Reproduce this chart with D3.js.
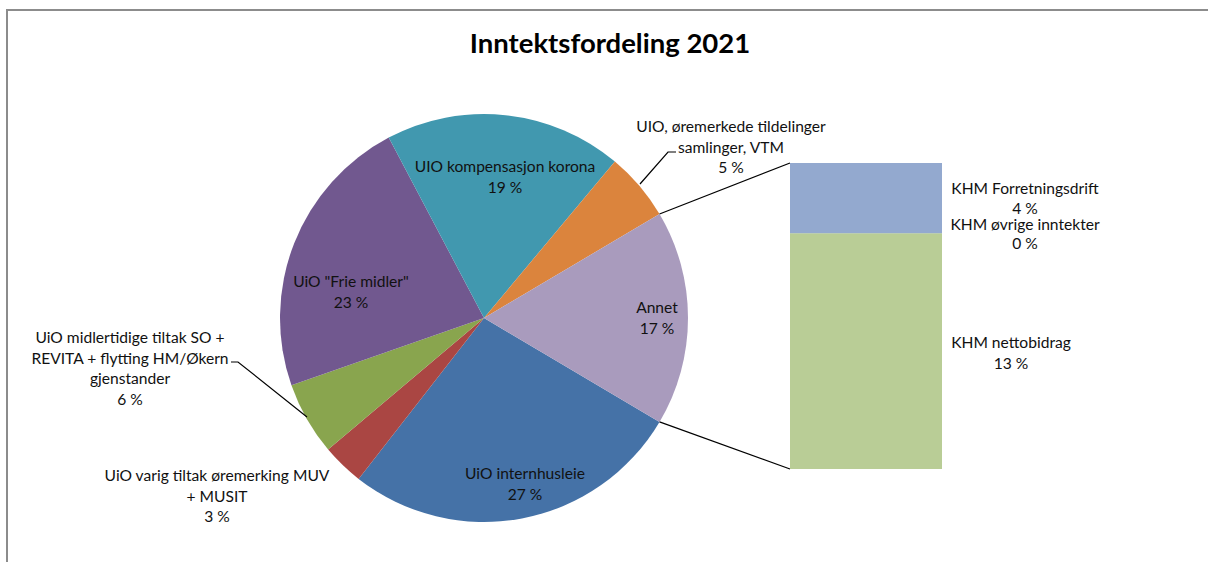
<!DOCTYPE html>
<html><head><meta charset="utf-8">
<script src="https://cdn.jsdelivr.net/npm/d3@7"></script>
<style>
html,body{margin:0;padding:0;background:#fff;}
text{font-family:Lato,"Open Sans",sans-serif;fill:#111;}
</style></head>
<body><svg id="chart" width="1208" height="562"></svg>
<script>
// ---- data ----
const pieCategories = ["UiO internhusleie","UiO varig tiltak øremerking MUV + MUSIT","UiO midlertidige tiltak SO + REVITA + flytting HM/Økern gjenstander","UiO \"Frie midler\"","UIO kompensasjon korona","UIO, øremerkede tildelinger samlinger, VTM"];
const pieValues = [27.0, 3.3, 5.8, 22.6, 18.8, 5.4];
const barCategories = ["KHM nettobidrag","KHM øvrige inntekter","KHM Forretningsdrift"];
const barValues = [13.1, 0.0, 3.9];
const otherLabel = "Annet";
const title = "Inntektsfordeling 2021";

// ---- style / layout ----
const pieColors = ["#4572A7","#AA4643","#89A54E","#71588F","#4198AF","#DB843D"];
const otherColor = "#A99BBD";
const barColors = ["#B9CD96","#8064A2","#93A9CF"];
const cx = 484, cy = 318, R = 204;
const barX = 790, barW = 152, barTop = 163, barBottom = 469;
const fs = 15.6, lh = 20.5;

const svg = d3.select("#chart");
// frame
svg.append("path").attr("d","M7,562 V10 H1208").attr("fill","none").attr("stroke","#8c8c8c").attr("stroke-width",2);

svg.append("text").attr("x",610).attr("y",53).attr("text-anchor","middle")
  .style("font-size","27.5px").style("font-weight","bold").style("fill","#000").text(title);

const otherTotal = d3.sum(barValues);
const all = pieValues.concat([otherTotal]);
const total = d3.sum(all);
const colors = pieColors.concat([otherColor]);
const start = Math.PI/2 + (otherTotal/total)*Math.PI;
const pie = d3.pie().sort(null).value(d=>d).startAngle(start).endAngle(start+2*Math.PI);
const arcs = pie(all);
const arc = d3.arc().innerRadius(0).outerRadius(R);
const g = svg.append("g").attr("transform",`translate(${cx},${cy})`);
g.selectAll("path").data(arcs).join("path").attr("d",arc).attr("fill",(d,i)=>colors[i]);

const pct = v => d3.format(".0f")(v/total*100) + " %";

// connector lines from "Annet" slice to bar
const oa = arcs[arcs.length-1];
const pt = a => [cx + R*Math.sin(a), cy - R*Math.cos(a)];
const y = d3.scaleLinear().domain([0, otherTotal]).range([barBottom, barTop]);
const p1 = pt(oa.startAngle), p2 = pt(oa.endAngle);
svg.append("line").attr("x1",p1[0]).attr("y1",p1[1]).attr("x2",barX).attr("y2",y(otherTotal)).attr("stroke","#000").attr("stroke-width",1.2);
svg.append("line").attr("x1",p2[0]).attr("y1",p2[1]).attr("x2",barX).attr("y2",y(0)).attr("stroke","#000").attr("stroke-width",1.2);

// stacked bar
let acc = 0;
const stack = barValues.map((v,i)=>{const s={v,i,y0:acc,y1:acc+v}; acc+=v; return s;}).filter(d=>d.v>0);
svg.selectAll("rect.bar").data(stack).join("rect").attr("class","bar")
  .attr("x",barX).attr("width",barW)
  .attr("y",d=>y(d.y1)).attr("height",d=>y(d.y0)-y(d.y1))
  .attr("fill",d=>barColors[d.i]);

// label helper
function label(lines, x, yTop, lineH){
  const L = lineH || lh;
  const t = svg.append("text").attr("text-anchor","middle").style("font-size",fs+"px");
  lines.forEach((l,i)=>t.append("tspan").attr("x",x).attr("y",yTop+i*L).text(l));
}
// pie labels (centre x, baseline of first line)
label(["UiO internhusleie", pct(pieValues[0])], 525, 479);
label(["UiO varig tiltak øremerking MUV","+ MUSIT", pct(pieValues[1])], 217, 481);
label(["UiO midlertidige tiltak SO +","REVITA + flytting HM/Økern","gjenstander", pct(pieValues[2])], 130, 343);
label(["UiO \"Frie midler\"", pct(pieValues[3])], 351, 287);
label(["UIO kompensasjon korona", pct(pieValues[4])], 505, 172);
label(["UIO, øremerkede tildelinger","samlinger, VTM", pct(pieValues[5])], 731, 132);
label([otherLabel, pct(otherTotal)], 657, 313);
// bar labels
label([barCategories[2], pct(barValues[2])], 1025, 194, 19.5);
label([barCategories[1], pct(barValues[1])], 1025, 230, 19);
label([barCategories[0], pct(barValues[0])], 1011, 348);

// leader lines
const lead = (pts)=>svg.append("path").attr("d",d3.line()(pts)).attr("fill","none").attr("stroke","#000").attr("stroke-width",1.2);
lead([[640,184],[668,152],[676,152]]);
lead([[231,362],[238,362],[307,417]]);
</script></body></html>
